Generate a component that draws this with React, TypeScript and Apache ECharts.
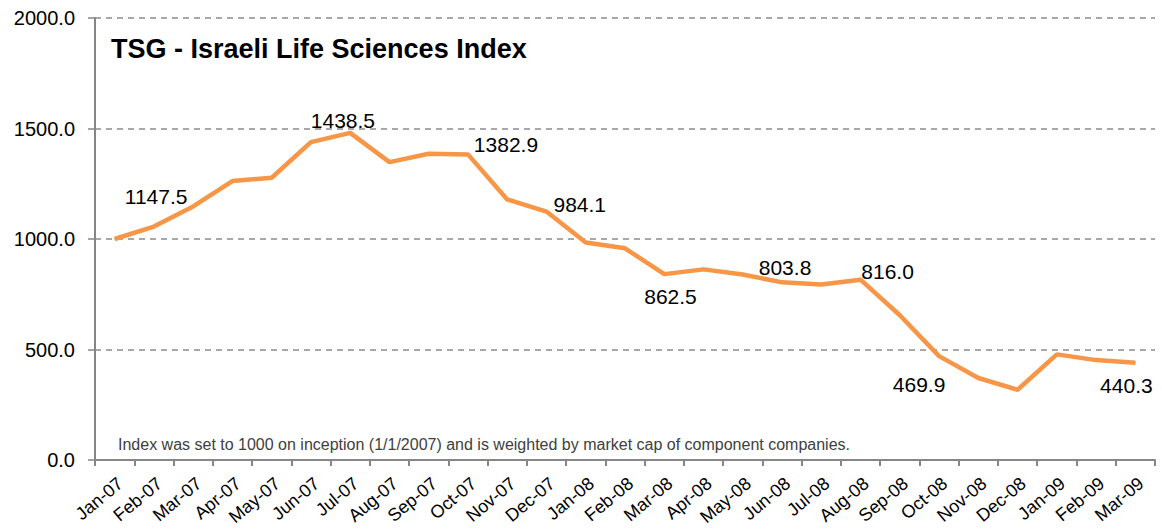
import React, { useEffect, useRef } from "react";
import * as echarts from "echarts";

const categories = [
  "Jan-07", "Feb-07", "Mar-07", "Apr-07", "May-07", "Jun-07", "Jul-07", "Aug-07", "Sep-07",
  "Oct-07", "Nov-07", "Dec-07", "Jan-08", "Feb-08", "Mar-08", "Apr-08", "May-08", "Jun-08",
  "Jul-08", "Aug-08", "Sep-08", "Oct-08", "Nov-08", "Dec-08", "Jan-09", "Feb-09", "Mar-09",
];

const indexValues = [
  1000, 1056, 1147.5, 1262, 1277, 1438.5, 1480, 1348, 1386,
  1382.9, 1179, 1124, 984.1, 958, 841, 862.5, 839, 803.8,
  794, 816.0, 655, 469.9, 371, 318, 478, 452, 440.3,
];

const labeledMonths = ["Mar-07", "Jun-07", "Oct-07", "Jan-08", "Apr-08", "Jun-08", "Aug-08", "Oct-08", "Mar-09"];

const yTicks = [0, 500, 1000, 1500, 2000];

const titleText = "TSG - Israeli Life Sciences Index";
const footnote =
  "Index was set to 1000 on inception (1/1/2007) and is weighted by market cap of component companies.";

// label placement (style only)
const labelOffsets: Record<string, [number, number]> = {
  "Mar-07": [-37, -10],
  "Jun-07": [32, -22],
  "Oct-07": [38, -10],
  "Jan-08": [-6, -38],
  "Apr-08": [-33, 27],
  "Jun-08": [3, -15],
  "Aug-08": [27, -8],
  "Oct-08": [-20, 28],
  "Mar-09": [-9, 23],
};

const FONT = "'Liberation Sans', Arial, sans-serif";

export default function App() {
  const ref = useRef<HTMLDivElement>(null);

  useEffect(() => {
    if (!ref.current) return;
    const chart = echarts.init(ref.current, null, { renderer: "svg" });
    const data = indexValues.map((v, i) => {
      const cat = categories[i];
      if (labeledMonths.includes(cat)) {
        return {
          value: v,
          label: { show: true, position: "inside", offset: labelOffsets[cat] },
        };
      }
      return v;
    });
    chart.setOption({
      animation: false,
      backgroundColor: "#ffffff",
      textStyle: { fontFamily: FONT },
      title: {
        text: titleText,
        left: 106,
        top: 30,
        textStyle: { fontFamily: FONT, fontSize: 27, fontWeight: "bold", color: "#000" },
      },
      grid: { left: 95, right: 7, top: 18, bottom: 71, containLabel: false, outerBoundsMode: "none" },
      xAxis: {
        type: "category",
        data: categories,
        boundaryGap: true,
        axisLine: { lineStyle: { color: "#868686", width: 2 } },
        axisTick: { show: true, interval: 0, length: 6, lineStyle: { color: "#868686", width: 2 } },
        axisLabel: {
          interval: 0,
          rotate: 40,
          margin: 14,
          fontSize: 18,
          verticalAlign: "top",
          color: "#000",
          fontFamily: FONT,
        },
        splitLine: { show: false },
      },
      yAxis: {
        type: "value",
        min: yTicks[0],
        max: yTicks[yTicks.length - 1],
        interval: 500,
        axisLine: { show: true, lineStyle: { color: "#868686", width: 2 } },
        axisTick: { show: true, length: 7, lineStyle: { color: "#868686", width: 1.5 } },
        axisLabel: {
          margin: 20,
          fontSize: 20,
          color: "#000",
          fontFamily: FONT,
          formatter: (v: number) => v.toFixed(1),
        },
        splitLine: { show: true, lineStyle: { color: "#8c8c8c", width: 1.5, type: [6, 5] } },
      },
      series: [
        {
          type: "line",
          data,
          symbol: "circle",
          symbolSize: 1,
          showSymbol: true,
          itemStyle: { color: "#F79646" },
          lineStyle: { color: "#F79646", width: 4.5 },
          label: {
            show: false,
            fontSize: 21,
            color: "#000",
            fontFamily: FONT,
            formatter: (p: any) => Number(p.value).toFixed(1),
          },
          emphasis: { disabled: true },
        },
      ],
      graphic: [
        {
          type: "text",
          left: 118,
          top: 436,
          style: { text: footnote, fontSize: 16, fill: "#404040", fontFamily: FONT },
        },
      ],
    });
    return () => chart.dispose();
  }, []);

  return (
    <div
      ref={ref}
      style={{ position: "fixed", left: 0, top: 0, width: 1162, height: 531, background: "#fff" }}
    />
  );
}
